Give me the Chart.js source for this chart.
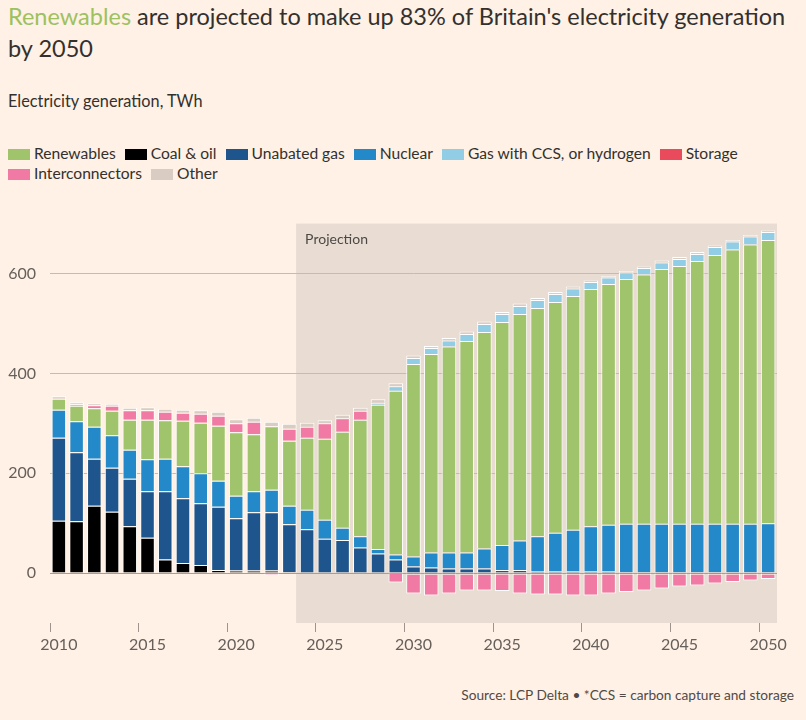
<!DOCTYPE html>
<html>
<head>
<meta charset="utf-8">
<script src="https://cdn.jsdelivr.net/npm/chart.js@4.4.1/dist/chart.umd.min.js"></script>
<style>
  html, body { margin: 0; padding: 0; background: #fff1e5; }
  body { width: 806px; height: 720px; position: relative; overflow: hidden; font-family: Lato, "Noto Sans", sans-serif; color: #33302e; }
  .title { position: absolute; left: 8px; top: 0; width: 795px; font-size: 23.5px; line-height: 32px; }
  .title span { color: #9dc15f; }
  .subtitle { position: absolute; left: 8px; top: 90px; font-size: 16.3px; line-height: 22px; color: #33302e; }
  .legend { position: absolute; left: 8px; top: 143px; width: 790px; font-size: 15.6px; line-height: 20px; color: #33302e; }
  .legend .item { display: inline-block; margin-right: 9px; white-space: nowrap; }
  .legend .box { display: inline-block; width: 22px; height: 11px; margin-right: 4px; vertical-align: -1px; }
  .source { position: absolute; right: 12px; top: 686px; font-size: 13.7px; color: #4f4a47; }
  #wrap { position: absolute; left: 0; top: 200px; width: 806px; height: 460px; }
</style>
</head>
<body>
<div class="title"><span>Renewables</span> are projected to make up 83% of Britain's electricity generation by 2050</div>
<div class="subtitle">Electricity generation, TWh</div>
<div class="legend" id="legend"></div>
<div id="wrap"><canvas id="chart"></canvas></div>
<div class="source">Source: LCP Delta • *CCS = carbon capture and storage</div>
<script>
const years = [];
for (let y = 2010; y <= 2050; y++) years.push(y);

const yTicks = [0, 200, 400, 600];
const projectionStart = 2023;

// TWh
const coal = [105, 104, 135, 123, 94, 71, 27, 20, 16, 6, 5, 5, 5, 2, 0, 0, 0, 0, 0, 0,
  0, 0, 0, 0, 0, 0, 0, 0, 0, 0, 0, 0, 0, 0, 0, 0, 0, 0, 0, 0, 0];
const unabatedGas = [166, 138, 94, 88, 95, 93, 137, 130, 124, 127, 105, 117, 117, 96, 88, 69, 66, 51, 39, 27,
  13, 11, 9, 9, 9, 6, 6, 4, 3, 3, 3, 3, 2, 2, 2, 2, 2, 2, 2, 2, 2];
const nuclear = [56, 62, 64, 65, 58, 64, 65, 64, 60, 52, 45, 42, 45, 37, 39, 38, 25, 23, 9, 10,
  20, 30, 32, 32, 40, 50, 59, 70, 78, 84, 91, 94, 97, 97, 97, 97, 97, 97, 97, 97, 98];
const renewables = [22, 31, 37, 49, 60, 79, 77, 91, 101, 110, 127, 114, 127, 130, 144, 162, 192, 233, 289, 328,
  386, 398, 413, 424, 434, 447, 454, 457, 462, 468, 475, 482, 490, 499, 510, 516, 526, 538, 549, 559, 567];
const gasCcs = [0, 0, 0, 0, 0, 0, 0, 0, 0, 0, 0, 0, 0, 0, 0, 0, 0, 0, 4, 9,
  12, 12, 12, 14, 16, 16, 16, 16, 16, 15, 14, 13, 13, 13, 13, 14, 14, 16, 16, 16, 16];
const storage = [0, 0, 0, 0, 0, 0, 0, 0, 0, 0, 0, 0, 0, 0, 0, 0, 0, 0, 0, -2,
  -3, -3, -3, -3, -3, -4, -4, -4, -4, -4, -4, -4, -4, -4, -4, -4, -4, -4, -4, -4, -4];
const interconnectors = [0, 3, 6, 10, 19, 19, 17, 16, 18, 20, 18, 25, -4, 24, 22, 31, 27, 18, 0, -17,
  -38, -42, -38, -32, -32, -32, -37, -39, -39, -41, -41, -37, -34, -31, -27, -23, -21, -17, -14, -11, -8];
const other = [5, 4, 4, 4, 5, 6, 6, 6, 7, 8, 8, 8, 9, 10, 8, 6, 7, 6, 7, 6,
  5, 4, 5, 5, 5, 4, 5, 4, 4, 4, 3, 3, 3, 3, 4, 4, 4, 3, 3, 3, 3];

// legend order as in the reference
const legendItems = [
  ["Renewables", "#a0c46b"],
  ["Coal & oil", "#000000"],
  ["Unabated gas", "#1e558c"],
  ["Nuclear", "#2389c8"],
  ["Gas with CCS, or hydrogen", "#92cde6"],
  ["Storage", "#ea4b5c"],
  ["Interconnectors", "#f07aa4"],
  ["Other", "#d9ccc3"],
];
const colorOf = {};
legendItems.forEach(([name, color]) => { colorOf[name] = color; });

const legendEl = document.getElementById("legend");
legendItems.forEach(([name, color]) => {
  const item = document.createElement("span");
  item.className = "item";
  item.innerHTML = '<span class="box" style="background:' + color + '"></span>' + name.replace("&", "&amp;");
  legendEl.appendChild(item);
});

// stacking order, bottom up
const series = [
  ["Coal & oil", coal],
  ["Unabated gas", unabatedGas],
  ["Nuclear", nuclear],
  ["Renewables", renewables],
  ["Gas with CCS, or hydrogen", gasCcs],
  ["Storage", storage],
  ["Interconnectors", interconnectors],
  ["Other", other],
];

const projectionBox = {
  id: "projectionBox",
  beforeDraw(chart) {
    const { ctx, chartArea, scales } = chart;
    const i = years.indexOf(projectionStart);
    const x0 = scales.x.getPixelForValue(i);
    const x1 = scales.x.getPixelForValue(i + 1);
    const left = x0 + (x1 - x0) * 0.38;
    ctx.save();
    ctx.fillStyle = "#e9ddd3";
    ctx.fillRect(left, chartArea.top, chartArea.right - left, chartArea.bottom - chartArea.top);
    ctx.fillStyle = "#4d4845";
    ctx.font = "14px Lato, sans-serif";
    ctx.textBaseline = "middle";
    ctx.fillText("Projection", left + 9, chartArea.top + 16);
    ctx.restore();
  },
};

const ctx = document.getElementById("chart").getContext("2d");
new Chart(ctx, {
  type: "bar",
  data: {
    labels: years,
    datasets: series.map(([name, values]) => ({
      label: name,
      data: values.map((v) => (v === 0 ? null : v)),
      backgroundColor: colorOf[name],
      borderColor: "#ffffff",
      borderWidth: 1,
      barPercentage: 0.82,
      categoryPercentage: 1,
    })),
  },
  options: {
    responsive: true,
    maintainAspectRatio: false,
    animation: false,
    layout: { padding: { left: 0, right: 29, top: 22, bottom: 0 } },
    scales: {
      x: {
        stacked: true,
        border: { display: false },
        grid: {
          drawOnChartArea: false,
          tickLength: 9,
          color: (c) => (c.index % 5 === 0 ? "#9e948d" : "rgba(0,0,0,0)"),
        },
        ticks: {
          autoSkip: false,
          maxRotation: 0,
          padding: 3,
          color: "#66605c",
          font: { family: "Lato", size: 16 },
          callback: (val, i) => (years[i] % 5 === 0 ? years[i] : ""),
        },
        afterFit: (scale) => { scale.height = 37; },
      },
      y: {
        stacked: true,
        min: -100,
        max: 700,
        border: { display: false },
        afterBuildTicks: (scale) => { scale.ticks = yTicks.map((v) => ({ value: v })); },
        grid: {
          drawTicks: false,
          color: (c) => (c.tick && c.tick.value === 0 ? "#a89e97" : "#c6bbb2"),
        },
        ticks: {
          padding: 14,
          color: "#66605c",
          font: { family: "Lato", size: 16 },
        },
        afterFit: (scale) => { scale.width = 50; },
      },
    },
    plugins: {
      legend: { display: false },
      tooltip: { enabled: false },
    },
  },
  plugins: [projectionBox],
});
</script>
</body>
</html>
